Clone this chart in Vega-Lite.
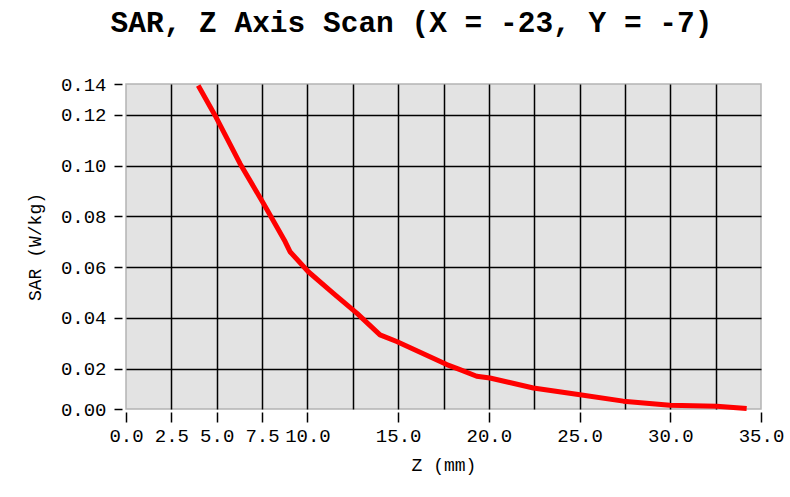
{
  "$schema": "https://vega.github.io/schema/vega-lite/v6.json",
  "width": 635,
  "height": 325,
  "autosize": "none",
  "padding": {"left": 126, "top": 84, "right": 29, "bottom": 88},
  "background": "white",
  "title": {
    "text": "SAR, Z Axis Scan (X = -23, Y = -7)",
    "font": "Liberation Mono",
    "fontSize": 29.5,
    "fontWeight": "bold",
    "color": "black",
    "anchor": "middle",
    "dx": -32,
    "offset": 37
  },
  "data": {
    "values": [
      {"z": 3.98, "sar": 0.1316},
      {"z": 4.91, "sar": 0.1198},
      {"z": 6.28, "sar": 0.1009},
      {"z": 7.57, "sar": 0.0852},
      {"z": 8.77, "sar": 0.0701},
      {"z": 9.04, "sar": 0.0661},
      {"z": 10.05, "sar": 0.0582},
      {"z": 11.43, "sar": 0.0497},
      {"z": 12.72, "sar": 0.0419},
      {"z": 14.0, "sar": 0.0333},
      {"z": 14.92, "sar": 0.0307},
      {"z": 17.68, "sar": 0.0216},
      {"z": 18.41, "sar": 0.0196},
      {"z": 19.33, "sar": 0.017},
      {"z": 20.06, "sar": 0.0163},
      {"z": 22.45, "sar": 0.0124},
      {"z": 24.93, "sar": 0.0098},
      {"z": 27.41, "sar": 0.0072},
      {"z": 29.98, "sar": 0.0056},
      {"z": 32.56, "sar": 0.0052},
      {"z": 34.21, "sar": 0.0043}
    ]
  },
  "mark": {"type": "line", "color": "#ff0000", "strokeWidth": 5, "strokeJoin": "round", "strokeCap": "butt"},
  "encoding": {
    "x": {
      "field": "z",
      "type": "quantitative",
      "scale": {"domain": [0, 35], "nice": false, "zero": false},
      "axis": {
        "title": "Z (mm)",
        "values": [0, 2.5, 5, 7.5, 10, 12.5, 15, 17.5, 20, 22.5, 25, 27.5, 30, 32.5, 35],
        "labelExpr": "(datum.value > 10 && datum.value % 5 != 0) ? '' : format(datum.value, '.1f')",
        "labelFont": "Liberation Mono",
        "labelFontSize": 19,
        "labelColor": "black",
        "labelPadding": 4,
        "labelOverlap": false,
        "labelFlush": false,
        "offset": 3,
        "domain": false,
        "ticks": true,
        "tickSize": 10,
        "tickWidth": 1.5,
        "tickColor": "black",
        "tickOpacity": {"condition": {"test": "datum.value > 10 && datum.value % 5 != 0", "value": 0}, "value": 1},
        "grid": true,
        "gridColor": "black",
        "gridWidth": 1.5,
        "gridOpacity": {"condition": {"test": "datum.value == 0 || datum.value == 35", "value": 0}, "value": 1},
        "titleFont": "Liberation Mono",
        "titleFontSize": 18,
        "titleFontWeight": "normal",
        "titleColor": "black",
        "titlePadding": 11
      }
    },
    "y": {
      "field": "sar",
      "type": "quantitative",
      "scale": {"domain": [0.0041, 0.1322], "nice": false, "zero": false},
      "axis": {
        "title": "SAR (W/kg)",
        "values": [0.0041, 0.02, 0.04, 0.06, 0.08, 0.1, 0.12, 0.1322],
        "labelExpr": "datum.value < 0.01 ? '0.00' : (datum.value > 0.13 ? '0.14' : format(datum.value, '.2f'))",
        "labelFont": "Liberation Mono",
        "labelFontSize": 19,
        "labelColor": "black",
        "labelPadding": 8,
        "labelOverlap": false,
        "labelFlush": false,
        "offset": 4,
        "domain": false,
        "tickSize": 8,
        "tickWidth": 1.5,
        "tickColor": "black",
        "grid": true,
        "gridColor": "black",
        "gridWidth": 1.5,
        "gridOpacity": {"condition": {"test": "datum.value < 0.01 || datum.value > 0.13", "value": 0}, "value": 1},
        "titleFont": "Liberation Mono",
        "titleFontSize": 18,
        "titleFontWeight": "normal",
        "titleColor": "black",
        "titlePadding": 16
      }
    }
  },
  "config": {
    "view": {"fill": "#e3e3e3", "stroke": "#b4b4b4", "strokeWidth": 1.5}
  }
}
